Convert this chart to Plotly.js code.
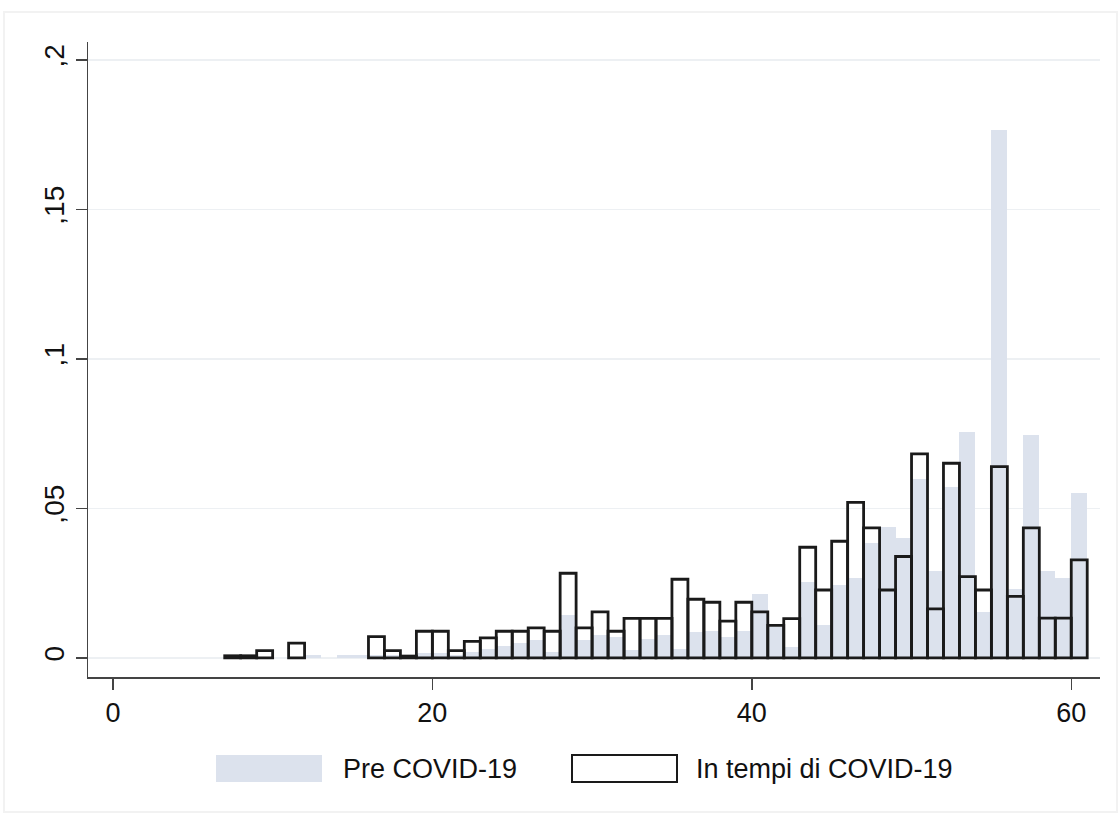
<!DOCTYPE html>
<html>
<head>
<meta charset="utf-8">
<script src="https://cdn.plot.ly/plotly-3.0.1.min.js"></script>
<style>html,body{margin:0;padding:0;background:#fff;}#chart{width:1120px;height:824px;}</style>
</head>
<body>
<div id="chart"></div>
<script>
// Bin left edges (bin width 1)
const binLeft = [7,8,9,10,11,12,13,14,15,16,17,18,19,20,21,22,23,24,25,26,27,28,29,30,31,32,33,34,35,36,37,38,39,40,41,42,43,44,45,46,47,48,49,50,51,52,53,54,55,56,57,58,59,60];
// Pre COVID-19 density (filled light bars)
const preCovid = [0,0,0,0,0,0.0008,0,0.0008,0.0008,0.001,0.001,0.001,0.0015,0.0015,0.001,0.002,0.003,0.004,0.005,0.006,0.002,0.0145,0.006,0.0075,0.0069,0.0025,0.0064,0.0075,0.003,0.0086,0.0091,0.0069,0.0091,0.0212,0.0103,0.0036,0.0255,0.011,0.0244,0.0266,0.0385,0.0437,0.040,0.0599,0.029,0.0573,0.0755,0.0155,0.1766,0.023,0.0744,0.029,0.0266,0.055];
// In tempi di COVID-19 density (outlined bars)
const duringCovid = [0.0007,0.0007,0.0024,null,0.0049,null,null,null,null,0.0071,0.0024,0.0006,0.0089,0.0089,0.0024,0.0055,0.0067,0.0089,0.0089,0.010,0.0089,0.0283,0.010,0.0154,0.0089,0.0132,0.0132,0.0132,0.0263,0.0196,0.0186,0.0123,0.0186,0.0154,0.0109,0.0131,0.037,0.0227,0.039,0.052,0.0435,0.0227,0.0339,0.0682,0.0164,0.0651,0.0272,0.0227,0.064,0.0206,0.0435,0.0133,0.0133,0.0328];
const yTickVals = [0,0.05,0.1,0.15,0.2];
const yTickText = ["0",",05",",1",",15",",2"];
const xTickVals = [0,20,40,60];
const seriesNames = ["Pre COVID-19","In tempi di COVID-19"];

const centers = binLeft.map(v => v + 0.5);

// pixel -> paper helpers for legend placement
const PL = 88, PR = 1100, PT = 42, PB = 677;
const px = v => (v - PL) / (PR - PL);
const py = v => (PB - v) / (PB - PT);

const FONT = "Liberation Sans, Arial, sans-serif";
const GRAY = "#dce2ed";

const traces = [
  {type:"bar", x:centers, y:preCovid, width:1, name:seriesNames[0],
   marker:{color:GRAY, line:{width:0}}, hoverinfo:"x+y"},
  {type:"bar", x:centers, y:duringCovid, width:1, name:seriesNames[1],
   marker:{color:"rgba(0,0,0,0)", line:{color:"#1a1a1a", width:2.8}}, hoverinfo:"x+y"}
];

const layout = {
  width:1120, height:824,
  paper_bgcolor:"#ffffff", plot_bgcolor:"#ffffff",
  margin:{l:PL, r:1120-PR, t:PT, b:824-PB, pad:0},
  barmode:"overlay", bargap:0,
  showlegend:false,
  font:{family:FONT, color:"#111", size:27},
  xaxis:{range:[-1.56,61.8], tickvals:xTickVals, ticks:"outside", ticklen:11, tickwidth:1.5,
         tickcolor:"#444", showline:true, linecolor:"#444", linewidth:1.5, showgrid:false,
         zeroline:false, tickfont:{family:FONT, size:27, color:"#111"}},
  yaxis:{range:[-0.0064,0.206], tickvals:yTickVals, ticktext:yTickText, tickangle:-90,
         ticks:"outside", ticklen:11, tickwidth:1.5, tickcolor:"#444", showline:true,
         linecolor:"#444", linewidth:1.5, showgrid:true, gridcolor:"#edf0f3", gridwidth:1.5,
         zeroline:false, tickfont:{family:FONT, size:28, color:"#111"}},
  shapes:[
    {type:"rect", xref:"paper", yref:"paper", x0:px(4), x1:px(1117), y0:py(812), y1:py(12),
     line:{color:"#f2f2f2", width:2}, fillcolor:"rgba(0,0,0,0)", layer:"below"},
    {type:"rect", xref:"paper", yref:"paper", x0:px(216), x1:px(322), y0:py(782), y1:py(755),
     line:{width:0}, fillcolor:GRAY},
    {type:"rect", xref:"paper", yref:"paper", x0:px(572), x1:px(677), y0:py(782), y1:py(755),
     line:{color:"#1a1a1a", width:2}, fillcolor:"#ffffff"}
  ],
  annotations:[
    {xref:"paper", yref:"paper", x:px(341), y:py(769), text:seriesNames[0], showarrow:false,
     xanchor:"left", yanchor:"middle", font:{family:FONT, size:27, color:"#111"}},
    {xref:"paper", yref:"paper", x:px(694), y:py(769), text:seriesNames[1], showarrow:false,
     xanchor:"left", yanchor:"middle", font:{family:FONT, size:27, color:"#111"}}
  ]
};

Plotly.newPlot("chart", traces, layout, {displayModeBar:false, staticPlot:true});
</script>
</body>
</html>
